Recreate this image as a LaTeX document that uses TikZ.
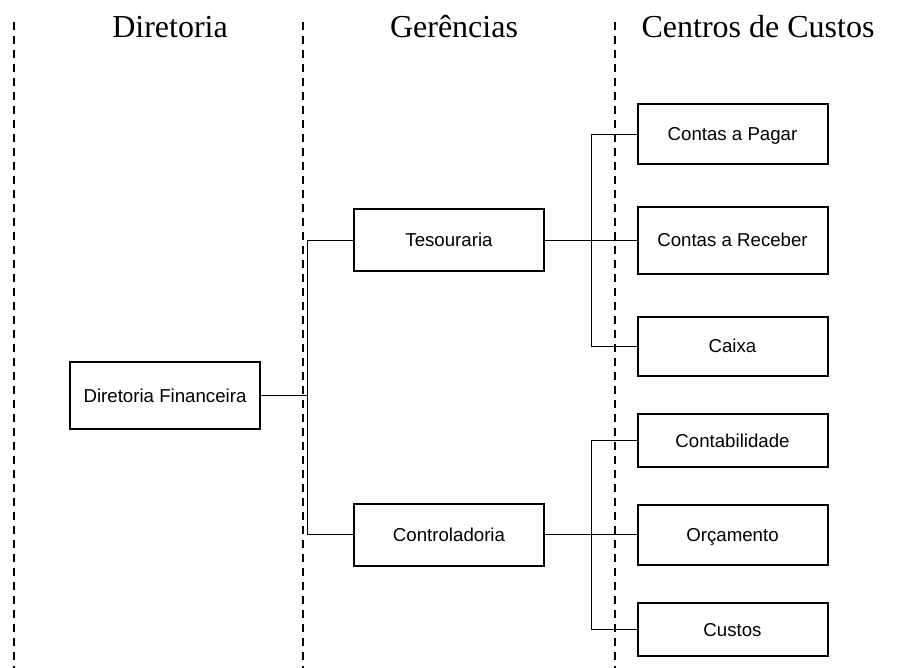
\documentclass[tikz,border=0pt]{standalone}
\usepackage{fontspec}
\setmainfont{Liberation Serif}
\newfontfamily\arialfont{Liberation Sans}

\begin{document}
\begin{tikzpicture}
[x=0.75pt,y=-0.75pt,
  boxDecorate/.style={shape=rectangle,draw,line width=1.5pt,inner sep=0pt,
    minimum width=142.5pt,text height=10pt,text depth=0pt,
    font=\arialfont\fontsize{14}{16}\selectfont},
  lineDecorate/.style={-,line width=0.75pt},
  sepDecorate/.style={line width=1.5pt,dash pattern=on 6pt off 4.5pt},
  headDecorate/.style={anchor=base,font=\fontsize{24}{28}\selectfont}]
\useasboundingbox (0,0) rectangle (897,668);
%% column separators
\foreach \sx in {14,303,615}
{
  \draw[sepDecorate] (\sx,22) -- (\sx,668);
}
%% column titles
\node (H1) at (170,37) [headDecorate] {Diretoria};
\node (H2) at (454,37) [headDecorate] {Gerências};
\node (H3) at (758,37) [headDecorate] {Centros de Custos};
%% boxes
\foreach \nodename/\x/\y/\h/\txt in {
  DF/165/395.5/50.25/Diretoria Financeira,
  Tes/449/240/46.5/Tesouraria,
  Ctr/449/534.5/46.5/Controladoria,
  CP/732.5/134/45/Contas a Pagar,
  CR/732.5/240/50.25/Contas a Receber,
  Cx/732.5/346/44.25/Caixa,
  Cb/732.5/440.5/39.75/Contabilidade,
  Orc/732.5/534.5/45/Orçamento,
  Cu/732.5/629.5/39.75/Custos}
{
  \node (\nodename) at (\x,\y) [boxDecorate,minimum height=\h pt] {\txt};
}
%% branch bars
\coordinate (B1) at (307,0);
\coordinate (B2) at (591,0);
%% edges or lines
\draw[lineDecorate] (DF.east) -- (DF.east -| B1);
\draw[lineDecorate] (Tes.west) -- (Tes.west -| B1) -- (Ctr.west -| B1) -- (Ctr.west);
\draw[lineDecorate] (Tes.east) -- (CR.west);
\draw[lineDecorate] (CP.west) -- (CP.west -| B2) -- (Cx.west -| B2) -- (Cx.west);
\draw[lineDecorate] (Ctr.east) -- (Orc.west);
\draw[lineDecorate] (Cb.west) -- (Cb.west -| B2) -- (Cu.west -| B2) -- (Cu.west);
\end{tikzpicture}
\end{document}
